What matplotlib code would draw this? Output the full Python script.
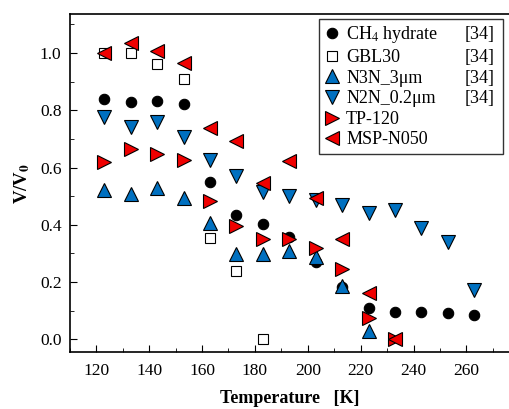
import numpy as np
import matplotlib
matplotlib.use("Agg")
import matplotlib.pyplot as plt

plt.rcParams['font.family'] = ['Liberation Serif', 'DejaVu Serif']
plt.rcParams['mathtext.fontset'] = 'stix'

# data
t_ch4 = [123, 133, 143, 153, 163, 173, 183, 193, 203, 213, 223, 233, 243, 253, 263]
v_ch4 = [0.838, 0.830, 0.832, 0.822, 0.55, 0.436, 0.404, 0.358, 0.27, 0.183, 0.111, 0.095, 0.094, 0.093, 0.086]

t_gbl = [123, 133, 143, 153, 163, 173, 183]
v_gbl = [1.0, 1.002, 0.962, 0.909, 0.354, 0.240, 0.002]

t_n3n = [123, 133, 143, 153, 163, 173, 183, 193, 203, 213, 223]
v_n3n = [0.521, 0.509, 0.527, 0.495, 0.407, 0.297, 0.297, 0.309, 0.288, 0.185, 0.029]

t_n2n = [123, 133, 143, 153, 163, 173, 183, 193, 203, 213, 223, 233, 243, 253, 263]
v_n2n = [0.775, 0.742, 0.759, 0.707, 0.628, 0.571, 0.515, 0.501, 0.486, 0.469, 0.443, 0.453, 0.390, 0.340, 0.171]

t_tp = [123, 133, 143, 153, 163, 173, 183, 193, 203, 213, 223, 233]
v_tp = [0.618, 0.664, 0.647, 0.626, 0.483, 0.396, 0.349, 0.352, 0.319, 0.245, 0.074, 0.002]

t_msp = [123, 133, 143, 153, 163, 173, 183, 193, 203, 213, 223, 233]
v_msp = [1.0, 1.034, 1.008, 0.964, 0.739, 0.692, 0.547, 0.623, 0.495, 0.352, 0.163, 0.002]

refs = ["[34]", "[34]", "[34]", "[34]", "", ""]

blue = "#0070C0"
red = "#F00000"

fig = plt.figure(figsize=(5.1, 4.09), dpi=100)
ax = fig.add_axes([0.137, 0.139, 0.863, 0.827])

kw = dict(linestyle="none", markeredgecolor="black", markeredgewidth=0.8)
ax.plot(t_ch4, v_ch4, marker="o", color="black", markersize=7.5, label="CH$_4$ hydrate", **kw)
ax.plot(t_gbl, v_gbl, marker="s", color="white", markersize=7, label="GBL30", **kw)
ax.plot(t_n3n, v_n3n, marker="^", color=blue, markersize=9.5, label="N3N_3μm", **kw)
ax.plot(t_n2n, v_n2n, marker="v", color=blue, markersize=9.5, label="N2N_0.2μm", **kw)
ax.plot(t_tp, v_tp, marker=">", color=red, markersize=9.5, label="TP-120", **kw)
ax.plot(t_msp, v_msp, marker="<", color=red, markersize=9.5, label="MSP-N050", **kw)

ax.set_xlim(110, 276.5)
ax.set_ylim(-0.045, 1.137)
ax.set_xticks(np.arange(120, 261, 20))
ax.set_xticks(np.arange(110, 276, 10), minor=True)
ax.set_yticks(np.arange(0, 1.01, 0.2))
ax.set_yticks(np.arange(0, 1.11, 0.1), minor=True)
ax.yaxis.set_major_formatter(matplotlib.ticker.FormatStrFormatter("%.1f"))
ax.tick_params(which="both", direction="in", labelsize=12.5, top=False, right=False)
ax.tick_params(which="major", length=5)
ax.tick_params(which="minor", length=3)
ax.tick_params(axis="x", pad=8)
ax.tick_params(axis="y", pad=6)
ax.spines["right"].set_visible(False)
for s in ["left", "bottom", "top"]:
    ax.spines[s].set_linewidth(1.2)

ax.set_xlabel("Temperature   [K]", fontsize=13, fontweight="bold", labelpad=8)
ax.set_ylabel("V/V$_\\mathbf{0}$", fontsize=13.5, fontweight="bold", labelpad=6)

leg = ax.legend(loc="upper left", bbox_to_anchor=(0.566, 0.589, 0.418, 0.396), mode="expand",
                fontsize=13, frameon=True, fancybox=False, edgecolor="black",
                handlelength=0.8, handletextpad=0.4, labelspacing=0.2,
                borderpad=0.3, borderaxespad=0)
leg.get_frame().set_linewidth(1.0)

# reference column inside the legend box
fig.canvas.draw()
for txt, ref in zip(leg.get_texts(), refs):
    if not ref:
        continue
    x0, y0 = txt.get_transform().transform(txt.get_position())
    fig.text(465 / 510, y0 / fig.bbox.height, ref, fontsize=13, va="baseline", ha="left")

fig.savefig("out.png", dpi=100)
